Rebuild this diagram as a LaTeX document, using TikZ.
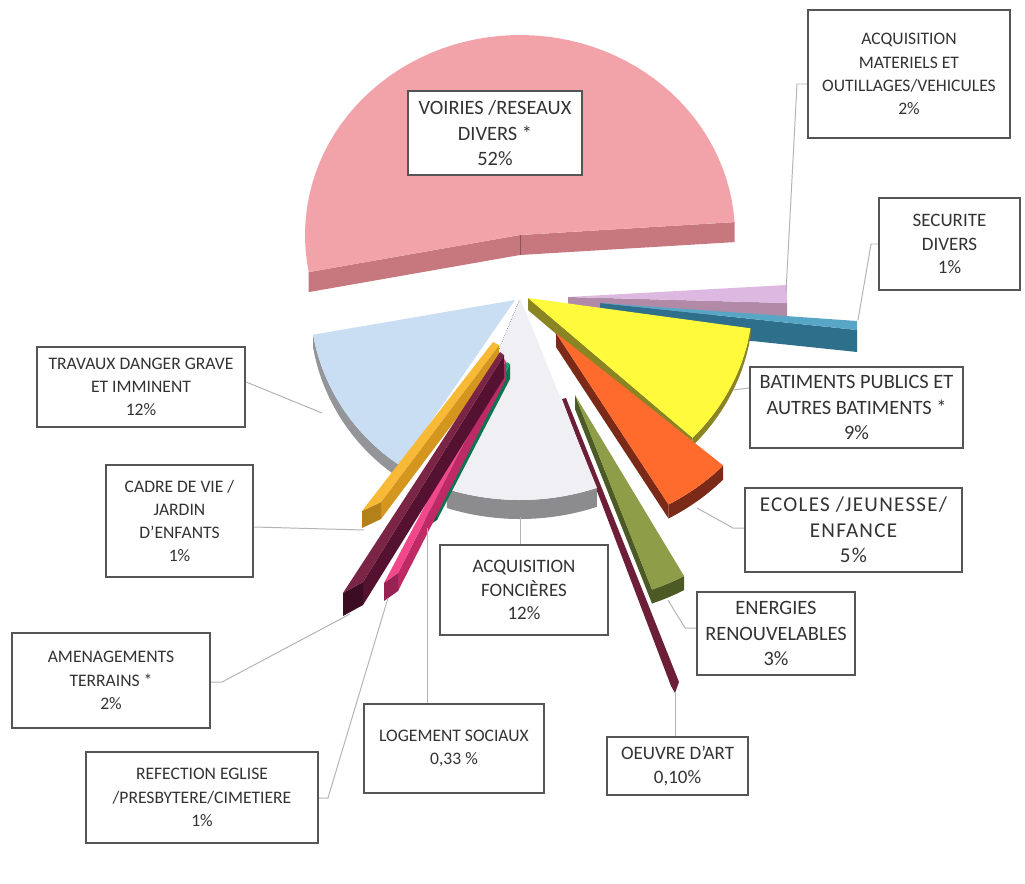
\documentclass[tikz,border=0pt]{standalone}
\usepackage{fontspec}
\setmainfont{Carlito}
\usepackage{tikz}
\usetikzlibrary{positioning, calc}

% couleurs des tranches (dessus / cote)
\definecolor{voirieT}{HTML}{F2A3AA}
\definecolor{voirieF}{HTML}{C7787F}
\definecolor{lilasT}{HTML}{DDB8E0}
\definecolor{lilasF}{HTML}{B08AA6}
\definecolor{canardT}{HTML}{58A6C6}
\definecolor{canardF}{HTML}{2E6F8C}
\definecolor{jauneT}{HTML}{FFFA3C}
\definecolor{jauneF}{HTML}{8A8422}
\definecolor{orangeT}{HTML}{FF6B2C}
\definecolor{orangeF}{HTML}{7C2A18}
\definecolor{oliveT}{HTML}{8E9D47}
\definecolor{oliveF}{HTML}{4C5A26}
\definecolor{artT}{HTML}{6E1F38}
\definecolor{grisT}{HTML}{F0EFF3}
\definecolor{grisF}{HTML}{8C8C8E}
\definecolor{cielT}{HTML}{C9DDF3}
\definecolor{cielF}{HTML}{939598}
\definecolor{orT}{HTML}{F7B936}
\definecolor{orF}{HTML}{D4961E}
\definecolor{bordeauxT}{HTML}{7A2446}
\definecolor{bordeauxF}{HTML}{541230}
\definecolor{framboiseT}{HTML}{F2488B}
\definecolor{framboiseF}{HTML}{BE2A66}
\definecolor{vertT}{HTML}{12A36F}
\definecolor{vertF}{HTML}{0B7550}
\definecolor{texteG}{HTML}{333333}
\definecolor{cadreG}{HTML}{555555}
\definecolor{renvoiG}{HTML}{B4B4B4}

\tikzset{
  etiquette/.style={draw=cadreG, line width=1.5pt, fill=white, text=texteG,
    align=center, inner sep=2pt, font=\fontsize{13.5}{16.5}\selectfont},
  grand/.style={font=\fontsize{14.5}{18}\selectfont},
  petit/.style={font=\fontsize{12.5}{16.5}\selectfont},
  renvoi/.style={draw=renvoiG, line width=0.7pt},
}

\begin{document}
\begin{tikzpicture}[x=0.025cm, y=-0.025cm]
  \fill[white] (0,0) rectangle (1025,883);

  % Voiries / reseaux (52%)
  \fill[voirieF] (308.7,272.1) -- (520,235) -- (734.6,222.1) -- (734.6,242.1) -- (520,255) -- (308.7,292.1) -- cycle;
  \fill[voirieT] (520,235) -- plot[domain=3.7:190.7, samples=60] ({520+215*cos(\x)},{235-200*sin(\x)}) -- cycle;
  \draw[voirieF!70!black, thin] (520,235) -- (520,255);

  % Acquisition materiels (2%) et securite (1%)
  \fill[lilasF] (568,297) -- (787,303) -- (787,317) -- (568,311) -- cycle;
  \fill[lilasT] (568,297) -- (787,285) -- (787,303) -- cycle;
  \fill[canardF] (600,303) -- (857,330) -- (857,352) -- (600,325) -- cycle;
  \fill[canardT] (600,303) -- (857,321) -- (857,330) -- cycle;

  % Batiments publics (9%)
  \fill[jauneF] (528,298) -- (692.6,437.8) -- (692.6,449.8) -- (528,310) -- cycle;
  \fill[jauneF] plot[domain=-8.5:-43, samples=30] ({528+225*cos(\x)},{298-205*sin(\x)})
    -- plot[domain=-43:-8.5, samples=30] ({528+225*cos(\x)},{306-205*sin(\x)}) -- cycle;
  \fill[jauneT] (528,298) -- plot[domain=-8.5:-43, samples=30] ({528+225*cos(\x)},{298-205*sin(\x)}) -- cycle;

  % Ecoles (5%)
  \fill[orangeF] (556,333) -- (668.5,504.5) -- (668.5,518.5) -- (556,347) -- cycle;
  \fill[orangeF] plot[domain=-42:-60, samples=20] ({556+225*cos(\x)},{333-198*sin(\x)})
    -- plot[domain=-60:-42, samples=20] ({556+225*cos(\x)},{347-198*sin(\x)}) -- cycle;
  \fill[orangeT] (556,333) -- plot[domain=-42:-60, samples=20] ({556+225*cos(\x)},{333-198*sin(\x)}) -- cycle;

  % Energies (3%)
  \fill[oliveF] (575,395) -- (652,589.5) -- (652,603.5) -- (575,409) -- cycle;
  \fill[oliveF] plot[domain=-61:-70, samples=10] ({575+225*cos(\x)},{395-207*sin(\x)})
    -- plot[domain=-70:-61, samples=10] ({575+225*cos(\x)},{409-207*sin(\x)}) -- cycle;
  \fill[oliveT] (575,395) -- plot[domain=-61:-70, samples=10] ({575+225*cos(\x)},{395-207*sin(\x)}) -- cycle;

  % Oeuvre d'art (0,10%)
  \fill[artT] (562,399) -- (566,398) -- (679,682) -- (675,693) -- (671,686) -- cycle;

  % Travaux (12%)
  \fill[cielF] plot[domain=190:236, samples=30] ({515+205*cos(\x)},{300-200*sin(\x)})
    -- plot[domain=236:190, samples=30] ({515+205*cos(\x)},{313-200*sin(\x)}) -- cycle;
  \fill[cielT] (515,300) -- plot[domain=190:236, samples=30] ({515+205*cos(\x)},{300-200*sin(\x)}) -- cycle;

  % Acquisition foncieres (12%)
  \fill[grisF] plot[domain=-109:-70, samples=30] ({520+225*cos(\x)},{298-202*sin(\x)})
    -- plot[domain=-70:-109, samples=30] ({520+225*cos(\x)},{317-202*sin(\x)}) -- cycle;
  \fill[grisT] (520,298) -- plot[domain=-109:-70, samples=30] ({520+225*cos(\x)},{298-202*sin(\x)}) -- cycle;
  \draw[grisF!50!black, densely dotted] (519,301) -- (480,395);

  % Logement sociaux (0,33%)
  \fill[vertF] (510,364) -- (437,505) -- (437,520) -- (510,379) -- cycle;
  \fill[vertF!80!black] (425,513) -- (437,505) -- (437,520) -- (425,528) -- cycle;
  \fill[vertT] (507,362) -- (425,513) -- (437,505) -- (510,364) -- cycle;

  % Refection eglise (1%)
  \fill[framboiseF] (506,361) -- (398,573) -- (398,591) -- (506,379) -- cycle;
  \fill[framboiseF!80!black] (384,583) -- (398,573) -- (398,591) -- (384,601) -- cycle;
  \fill[framboiseT] (503,358) -- (384,583) -- (398,573) -- (506,361) -- cycle;

  % Cadre de vie (1%)
  \fill[orF] (499,345) -- (381,502) -- (381,519) -- (499,362) -- cycle;
  \fill[orF!85!black] (362,511) -- (381,502) -- (381,519) -- (362,528) -- cycle;
  \fill[orT] (493,342) -- (362,511) -- (381,502) -- (499,345) -- cycle;

  % Amenagements terrains (2%)
  \fill[bordeauxF] (504,355) -- (363,582) -- (363,605) -- (504,378) -- cycle;
  \fill[bordeauxF!70!black] (343,593) -- (363,582) -- (363,605) -- (343,616) -- cycle;
  \fill[bordeauxT] (500,352) -- (343,593) -- (363,582) -- (504,355) -- cycle;

  % Etiquettes
  \node[etiquette, grand, minimum width=4.35cm, minimum height=2.1cm] (voiries) at (495,133) {VOIRIES /RESEAUX\\DIVERS *\\52\%};
  \node[etiquette, petit, minimum width=5.05cm, minimum height=3.2cm] (materiels) at (909,74) {ACQUISITION\\MATERIELS ET\\OUTILLAGES/VEHICULES\\2\%};
  \node[etiquette, minimum width=3.525cm, minimum height=2.3cm] (securite) at (949.5,244) {SECURITE\\DIVERS\\1\%};
  \node[etiquette, grand, minimum width=5.325cm, minimum height=2.025cm] (batiments) at (856.5,407.5) {BATIMENTS PUBLICS ET\\AUTRES BATIMENTS *\\9\%};
  \node[etiquette, font=\fontsize{15}{18}\selectfont\addfontfeatures{LetterSpace=6}, minimum width=5.425cm, minimum height=2.1cm] (ecoles) at (853.5,530) {ECOLES /JEUNESSE/\\ENFANCE\\5\%};
  \node[etiquette, grand, minimum width=3.95cm, minimum height=2.075cm] (energies) at (776,633.5) {ENERGIES\\RENOUVELABLES\\3\%};
  \node[etiquette, minimum width=3.525cm, minimum height=1.45cm] (oeuvre) at (677.5,766) {OEUVRE D'ART\\0,10\%};
  \node[etiquette, minimum width=4.2cm, minimum height=2.25cm] (foncieres) at (524,590) {ACQUISITION\\FONCIÈRES\\12\%};
  \node[etiquette, petit, minimum width=4.5cm, minimum height=2.225cm] (logement) at (454,748.5) {LOGEMENT SOCIAUX\\0,33 \%};
  \node[etiquette, petit, minimum width=5.8cm, minimum height=2.275cm] (refection) at (202,797.5) {REFECTION EGLISE\\/PRESBYTERE/CIMETIERE\\1\%};
  \node[etiquette, petit, minimum width=4.95cm, minimum height=2.375cm] (amenagements) at (111,680.5) {AMENAGEMENTS\\TERRAINS *\\2\%};
  \node[etiquette, petit, minimum width=3.675cm, minimum height=2.8cm] (cadre) at (179.5,521) {CADRE DE VIE /\\JARDIN\\D'ENFANTS\\1\%};
  \node[etiquette, petit, minimum width=5.2cm, minimum height=2cm] (travaux) at (141,387) {TRAVAUX DANGER GRAVE\\ET IMMINENT\\12\%};

  % Points d'attache des renvois
  \coordinate (p-materiels) at (786,292);
  \coordinate (p-securite) at (858,320);
  \coordinate (p-batiments) at (733,390);
  \coordinate (p-ecoles) at (697,508);
  \coordinate (p-energies) at (668,600);
  \coordinate (p-oeuvre) at (675,692);
  \coordinate (p-foncieres) at (520,517);
  \coordinate (p-logement) at (427,528);
  \coordinate (p-refection) at (388,598);
  \coordinate (p-amenagements) at (350,614);
  \coordinate (p-cadre) at (364,530);
  \coordinate (p-travaux) at (322,413);

  % Renvois
  \draw[renvoi] (p-materiels) -- (797,84) -- (materiels.west |- 0,84);
  \draw[renvoi] (p-securite) -- (871,244) -- (securite.west);
  \draw[renvoi] (p-batiments) -- (batiments.west |- 0,388);
  \draw[renvoi] (p-ecoles) -- (733,528) -- (ecoles.west |- 0,528);
  \draw[renvoi] (p-energies) -- (685,628) -- (energies.west |- 0,628);
  \draw[renvoi] (p-oeuvre) -- (oeuvre.north -| p-oeuvre);
  \draw[renvoi] (p-foncieres) -- (foncieres.north -| p-foncieres);
  \draw[renvoi] (p-logement) -- (logement.north -| p-logement);
  \draw[renvoi] (p-refection) -- (328,798) -- (refection.east |- 0,798);
  \draw[renvoi] (p-amenagements) -- (222,682) -- (amenagements.east |- 0,682);
  \draw[renvoi] (p-cadre) -- (cadre.east |- 0,527);
  \draw[renvoi] (p-travaux) -- (travaux.east |- 0,382);
\end{tikzpicture}
\end{document}
